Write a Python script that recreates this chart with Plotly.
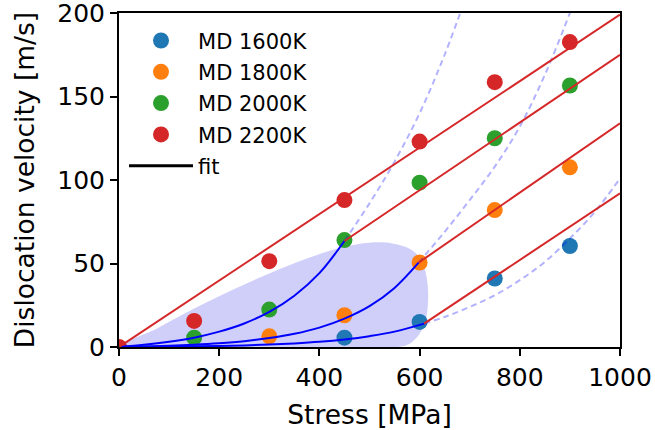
import plotly.graph_objects as go

# ---------------- data ----------------
stress = [0, 150, 300, 450, 600, 750, 900]
v_1600 = [None, None, None, 5.6, 15.0, 41.0, 60.5]
v_1800 = [None, None, 6.4, 19.0, 50.6, 82.0, 107.6]
v_2000 = [None, 5.6, 22.4, 64.0, 98.4, 125.0, 156.6]
v_2200 = [0.0, 15.6, 51.4, 88.0, 123.0, 158.6, 182.6]
series_names = ["MD 1600K", "MD 1800K", "MD 2000K", "MD 2200K"]
series_colors = ["#1f77b4", "#ff7f0e", "#2ca02c", "#d62728"]

# fitted linear regimes (start -> end)
fit_x0 = [609, 598, 450, 0]
fit_y0 = [14.0, 50.5, 63.5, 0.0]
fit_x1 = [1000, 1000, 1000, 1000]
fit_y1 = [92.0, 134.0, 175.0, 199.0]

# low-stress (thermally activated) curves
curve_x_1600 = [0, 50, 100, 150, 200, 250, 300, 350, 400, 450, 500, 550, 609]
curve_y_1600 = [0, 0.09, 0.21, 0.38, 0.62, 0.97, 1.46, 2.15, 3.1, 4.5, 6.5, 9.2, 14.0]
curve_x_1800 = [0, 50, 100, 150, 200, 250, 300, 350, 400, 450, 500, 550, 598]
curve_y_1800 = [0, 0.3, 0.74, 1.37, 2.25, 3.5, 5.35, 7.9, 11.6, 17.0, 24.5, 35.4, 50.5]
curve_x_2000 = [0, 50, 100, 150, 200, 250, 300, 350, 400, 450]
curve_y_2000 = [0, 1.3, 3.1, 5.6, 9.2, 14.1, 21.0, 30.7, 44.2, 63.5]

# dashed continuations
dash_x_1600 = [609, 650, 700, 750, 800, 850, 900, 950, 1000]
dash_y_1600 = [14.0, 18, 24, 31, 40, 51, 65, 81, 101]
dash_x_1800 = [598, 650, 700, 750, 800, 850, 900, 920]
dash_y_1800 = [50.5, 69, 88, 108, 132, 163, 200, 216]
dash_x_2000 = [450, 500, 550, 600, 650, 700]
dash_y_2000 = [63.5, 86, 111, 140, 175, 216]

# shaded region outline
blob_x = [0, 75, 150, 225, 300, 375, 450, 500, 545, 585, 605, 615, 617, 612, 600, 580, 555, 300, 0]
blob_y = [0, 11, 23, 34, 44, 53, 60, 62.5, 62, 58, 51, 40, 28, 16, 8, 2, 0, 0, 0]

x_ticks = [0, 200, 400, 600, 800, 1000]
y_ticks = [0, 50, 100, 150, 200]

FONT = "DejaVu Sans"
fig = go.Figure()

fig.add_trace(go.Scatter(x=blob_x, y=blob_y, mode="lines", fill="toself",
                         fillcolor="rgb(207,207,250)", line=dict(width=0, shape="spline"),
                         showlegend=False, hoverinfo="skip"))

for i, (name, vals) in enumerate(zip(series_names, [v_1600, v_1800, v_2000, v_2200])):
    fig.add_trace(go.Scatter(x=stress, y=vals, mode="markers", name=name,
                             marker=dict(color=series_colors[i], size=16, line=dict(width=0)),
                             legendgroup=name, legendrank=i + 1))

for xs, ys in [(dash_x_1600, dash_y_1600), (dash_x_1800, dash_y_1800), (dash_x_2000, dash_y_2000)]:
    fig.add_trace(go.Scatter(x=xs, y=ys, mode="lines", showlegend=False,
                             line=dict(color="rgba(0,0,255,0.3)", width=2, dash="6px,4px", shape="spline")))

for xs, ys in [(curve_x_1600, curve_y_1600), (curve_x_1800, curve_y_1800), (curve_x_2000, curve_y_2000)]:
    fig.add_trace(go.Scatter(x=xs, y=ys, mode="lines", showlegend=False,
                             line=dict(color="#0000ff", width=2, shape="spline")))

for x0, y0, x1, y1 in zip(fit_x0, fit_y0, fit_x1, fit_y1):
    fig.add_trace(go.Scatter(x=[x0, x1], y=[y0, y1], mode="lines", showlegend=False,
                             line=dict(color="#d62728", width=2)))

fig.add_trace(go.Scatter(x=[None], y=[None], mode="lines", name="fit",
                         line=dict(color="black", width=3), legendgroup="fit", legendrank=5))

axis_common = dict(showline=True, linecolor="black", linewidth=2, mirror=True,
                   ticks="outside", ticklen=7, tickwidth=2, tickcolor="black",
                   showgrid=False, zeroline=False, automargin=False,
                   ticklabeloverflow="allow",
                   tickfont=dict(family=FONT, size=25, color="black"))

fig.update_layout(
    width=655, height=430,
    margin=dict(l=119, r=35, t=13, b=83),
    paper_bgcolor="white", plot_bgcolor="white",
    font=dict(family=FONT, size=22, color="black"),
    xaxis=dict(range=[0, 1000], tickvals=x_ticks,
               title=dict(text="Stress [MPa]", font=dict(family=FONT, size=26.5)),
               **axis_common),
    yaxis=dict(range=[0, 200], tickvals=y_ticks,
               title=dict(text="Dislocation velocity [m/s]", font=dict(family=FONT, size=26.5)),
               **axis_common),
    legend=dict(x=0.01, y=0.978, xanchor="left", yanchor="top",
                bgcolor="rgba(0,0,0,0)", borderwidth=0,
                font=dict(family=FONT, size=21, color="black"),
                itemwidth=64, tracegroupgap=1, traceorder="grouped"),
    showlegend=True,
)

fig.write_html("out.html", config={"displayModeBar": False},
               post_script="document.body.style.margin='0';")
